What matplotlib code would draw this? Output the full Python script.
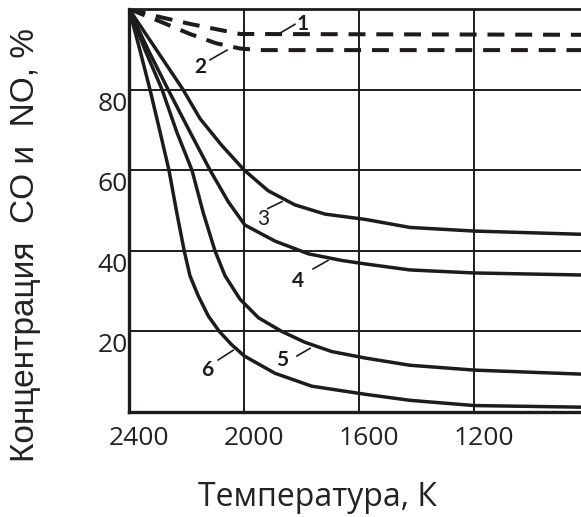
import matplotlib
matplotlib.use("Agg")
import matplotlib.pyplot as plt
import matplotlib.transforms as mtransforms

# ---- data ----
T1 = [2400, 2310, 2188, 2090, 2014, 828]
C1 = [100, 98.3, 96.3, 94.9, 93.8, 93.6]

T2 = [2400, 2285, 2188, 2097, 2014, 1944, 828]
C2 = [100, 96.7, 93.8, 91.5, 90.2, 89.8, 89.8]

T3 = [2400, 2304, 2212, 2153, 2078, 1999, 1916, 1823, 1718, 1579, 1423, 1200, 828]
C3 = [100, 89.8, 80, 72.8, 66.2, 60, 54.9, 51.4, 49.1, 47.8, 45.8, 44.9, 44.1]

T4 = [2400, 2333, 2264, 2188, 2118, 2055, 1997, 1892, 1776, 1660, 1579, 1423, 1200, 828]
C4 = [100, 89.8, 80, 69.5, 60, 52.2, 46.4, 42.4, 39.25, 37.6, 36.75, 35.25, 34.5, 34.0]

T5 = [2400, 2344, 2285, 2234, 2181, 2142, 2101, 2066, 2014, 1950, 1869, 1788, 1695, 1579,
      1423, 1200, 828]
C5 = [100, 89.8, 80, 69.5, 60, 49.5, 40, 33.8, 28, 23.4, 20, 17.3, 15.0, 13.4,
      11.6, 10.4, 9.4]

T6 = [2400, 2362, 2327, 2292, 2261, 2234, 2208, 2188, 2159, 2124, 2086, 2043, 1999, 1892,
      1764, 1579, 1423, 1200, 828]
C6 = [100, 89.8, 80, 69.5, 60, 49.5, 40, 33.8, 28.8, 23.8, 20, 16.7, 13.9, 9.6,
      6.4, 4.4, 2.9, 1.6, 1.2]

x_ticks = [2400, 2000, 1600, 1200]
y_ticks = [20, 40, 60, 80]

# curve labels: (text, label x, label y, pointer start, pointer end, bold)
labels = [
    ("1", 1795, 96.2, (1875, 94.0), (1823, 96.2), True),
    ("2", 2153, 85.5, (2118, 87.4), (2059, 89.8), True),
    ("3", 1934, 47.8, (1917, 50.5), (1868, 52.2), False),
    ("4", 1812, 32.5, (1760, 35.5), (1708, 37.6), True),
    ("5", 1868, 12.9, (1816, 13.9), (1770, 15.8), True),
    ("6", 2129, 10.4, (2090, 12.9), (2038, 15.3), True),
]

INK = "#1e1b1c"

fig = plt.figure(figsize=(5.81, 5.17), dpi=100)
ax = fig.add_axes([129 / 581, 1 - 412 / 517, 1 - 129 / 581, (412 - 9) / 517])

ax.set_xlim(2400, 828)
ax.set_ylim(0, 100)

ax.set_xticks(x_ticks)
ax.set_xticklabels([str(v) for v in x_ticks])
ax.set_yticks(y_ticks)
ax.set_yticklabels([str(v) for v in y_ticks])

ax.grid(True, color=INK, linewidth=1.4)
ax.set_axisbelow(True)

for T, C in [(T3, C3), (T4, C4), (T5, C5), (T6, C6)]:
    ax.plot(T, C, color=INK, linewidth=2.5, solid_capstyle="round", solid_joinstyle="round")

for T, C in [(T1, C1), (T2, C2)]:
    ax.plot(T, C, color=INK, linewidth=2.9, dashes=(4.2, 2.7), dash_capstyle="butt")

for txt, lx, ly, p0, p1, bold in labels:
    ax.text(lx, ly, txt, fontsize=15, fontfamily="Lato",
            fontweight="bold" if bold else "normal", color=INK,
            ha="center", va="center")
    ax.plot([p0[0], p1[0]], [p0[1], p1[1]], color=INK, linewidth=1.2)

for side in ["left", "bottom"]:
    ax.spines[side].set_linewidth(2.4)
    ax.spines[side].set_color(INK)
ax.spines["top"].set_linewidth(2.0)
ax.spines["top"].set_color(INK)
ax.spines["right"].set_visible(False)

ax.tick_params(axis="both", length=0, colors="#222222")
ax.tick_params(axis="x", pad=10)
ax.tick_params(axis="y", pad=1)
offx = mtransforms.ScaledTranslation(10 / 100, 0, fig.dpi_scale_trans)
offy = mtransforms.ScaledTranslation(0, -2 / 100, fig.dpi_scale_trans)
for lbl in ax.get_xticklabels():
    lbl.set_fontfamily("Open Sans")
    lbl.set_fontsize(19)
    lbl.set_transform(lbl.get_transform() + offx)
for lbl in ax.get_yticklabels():
    lbl.set_fontfamily("Open Sans")
    lbl.set_fontsize(19)
    lbl.set_va("top")
    lbl.set_transform(lbl.get_transform() + offy)

fig.text(317 / 581, 1 - 497 / 517, "Температура, К", fontfamily="Open Sans",
         fontsize=23, color="#222222", ha="center", va="center")
fig.text(26 / 581, 1 - 245 / 517, "Концентрация  CO и  NO, %", fontfamily="Liberation Sans",
         fontsize=24, color="#222222", ha="center", va="center", rotation=90)

fig.savefig("out.png", dpi=100)
